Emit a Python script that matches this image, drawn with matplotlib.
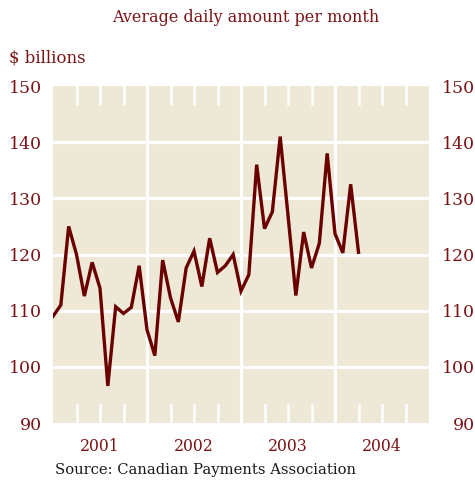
import numpy as np
import matplotlib
matplotlib.use("Agg")
import matplotlib.pyplot as plt

# monthly values, $ billions
values = [109, 111, 125, 120, 112.6, 118.6, 114, 96.6, 110.7, 109.5,
          110.6, 118, 106.6, 102, 119, 112.3, 108, 117.6, 120.6, 114.3,
          122.9, 116.8, 118, 120, 113.5, 116.4, 136, 124.6, 127.6, 141,
          127, 112.7, 124, 117.6, 122, 138, 123.7, 120.3, 132.5, 120.4]
years = ["2001", "2002", "2003", "2004"]
y_ticks = [90, 100, 110, 120, 130, 140, 150]

bg = "#EEE9D7"
line_col = "#6B0000"
text_col = "#7A1416"
font = "DejaVu Serif"

fig = plt.figure(figsize=(4.75, 4.83), dpi=100)
ax = fig.add_axes([53 / 475, 1 - 423 / 483, 376 / 475, 337 / 483])
ax.set_facecolor(bg)

months = np.arange(len(values))
n_months = 12 * len(years)
ax.set_xlim(0, n_months)
ax.set_ylim(90, 150)

# white horizontal gridlines
for v in y_ticks[1:-1]:
    ax.axhline(v, color="white", lw=2.2, zorder=1)
# year separators
for i in range(1, len(years)):
    ax.axvline(12 * i, color="white", lw=2.2, zorder=1)
# quarter ticks, drawn inward at top and bottom
for q in range(3, n_months, 3):
    if q % 12 == 0:
        continue
    ax.plot([q, q], [90, 93.2], color="white", lw=1.8, zorder=1)
    ax.plot([q, q], [146.8, 150], color="white", lw=1.8, zorder=1)

ax.plot(months, values, color=line_col, lw=2.4, zorder=3,
        solid_joinstyle="miter")

for s in ax.spines.values():
    s.set_visible(False)

ax.set_xticks([12 * i + 6 for i in range(len(years))])
ax.set_xticklabels(years)
ax.tick_params(axis="x", length=0, pad=11, labelsize=11.3,
               labelcolor=text_col)
ax.set_yticks(y_ticks)
ax.tick_params(axis="y", length=0, pad=8, labelsize=12.5,
               labelcolor=text_col)

ax2 = ax.twinx()
ax2.set_ylim(90, 150)
ax2.set_yticks(y_ticks)
for s in ax2.spines.values():
    s.set_visible(False)
ax2.tick_params(axis="y", length=0, pad=33, labelsize=12.5,
                labelcolor=text_col)
for lab in ax2.get_yticklabels():
    lab.set_horizontalalignment("right")

for lab in ax.get_xticklabels() + ax.get_yticklabels() + ax2.get_yticklabels():
    lab.set_family(font)

fig.text(246 / 475, 1 - 18 / 483, "Average daily amount per month",
         ha="center", va="center", fontsize=11.5, color=text_col,
         family=font)
fig.text(9 / 475, 1 - 58 / 483, "$ billions", ha="left", va="center",
         fontsize=12, color=text_col, family=font)
fig.text(55 / 475, 1 - 470 / 483, "Source: Canadian Payments Association",
         ha="left", va="center", fontsize=10.6, color="#1a1a1a", family=font)

fig.savefig("out.png", dpi=100)
